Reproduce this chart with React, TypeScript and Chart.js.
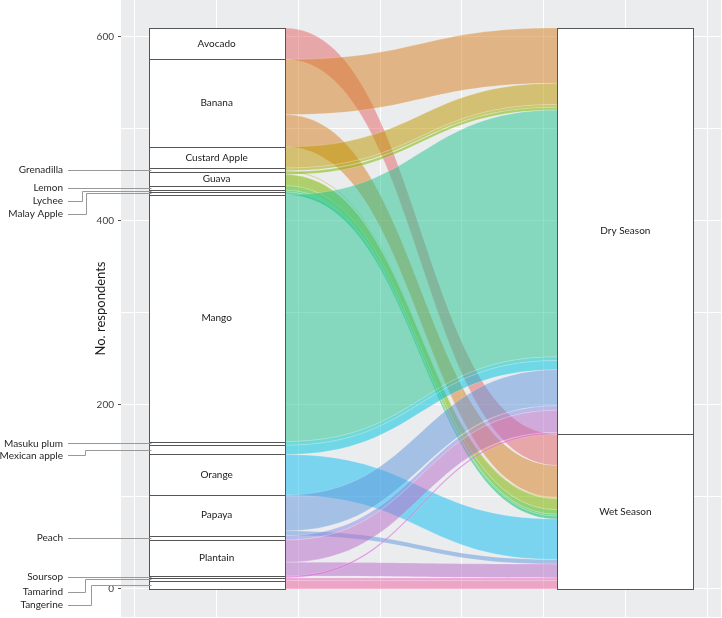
import React, { useEffect, useRef } from "react";
import { Chart, registerables } from "chart.js";

Chart.register(...registerables);

// ---------------- data ----------------
const fruits = [
  "Avocado", "Banana", "Custard Apple", "Grenadilla", "Guava", "Lemon", "Lychee",
  "Malay Apple", "Mango", "Masuku plum", "Mexican apple", "Orange", "Papaya",
  "Peach", "Plantain", "Soursop", "Tamarind", "Tangerine",
];
const seasons = ["Dry Season", "Wet Season"];
const dryCounts = [0, 60, 23, 3, 3, 0, 0, 0, 268, 4, 10, 0, 39, 5, 24, 2, 0, 0];
const wetCounts = [34, 35, 0, 1, 12, 5, 2, 3, 0, 0, 0, 44, 5, 0, 15, 0, 3, 9];
const yTickValues = [0, 100, 200, 300, 400, 500, 600];
const yTickLabels = ["0", "", "200", "", "400", "", "600"];
const xGridValues = [0.8, 1.0, 1.2, 1.4, 1.6, 1.8, 2.0, 2.2];
const axisPositions = [1, 2];
// repelled label positions (respondents) for small strata
const repelledLabelY: Record<string, number> = {
  Lychee: 421.5,
  "Malay Apple": 407.3,
  "Mexican apple": 144.9,
  Tamarind: -2.8,
  Tangerine: -16.9,
};

// ---------------- styles ----------------
const flowColors = [
  "rgba(229,104,106,0.52)", "rgba(214,128,34,0.52)", "rgba(192,152,0,0.52)",
  "rgba(165,168,0,0.52)", "rgba(128,182,0,0.55)", "rgba(70,192,20,0.55)",
  "rgba(20,190,70,0.55)", "rgba(0,190,100,0.55)", "rgba(40,198,146,0.52)",
  "rgba(0,198,190,0.52)", "rgba(0,196,222,0.52)", "rgba(20,190,242,0.52)",
  "rgba(100,152,218,0.52)", "rgba(140,140,228,0.52)", "rgba(185,110,200,0.52)",
  "rgba(220,100,220,0.6)", "rgba(235,100,190,0.52)", "rgba(240,100,160,0.52)",
];
const leaderElbowPx: Record<string, number> = {
  Lychee: 82, "Malay Apple": 86, "Mexican apple": 85, Tamarind: 85, Tangerine: 91,
};
const PANEL_BG = "#EBECEE";
const STRATUM_W = 1 / 3;
const INSIDE_MIN = 11;
const FONT = "Lato, 'Open Sans', sans-serif";

const alluvialPlugin = {
  id: "alluvial",
  beforeDraw(chart: any) {
    const { ctx, chartArea } = chart;
    ctx.save();
    ctx.fillStyle = PANEL_BG;
    ctx.fillRect(chartArea.left, chartArea.top, chartArea.right - chartArea.left, chartArea.bottom - chartArea.top);
    ctx.restore();
  },
  afterDatasetsDraw(chart: any) {
    const { ctx } = chart;
    const xs = chart.scales.x;
    const ys = chart.scales.y;
    const n = fruits.length;
    const totals = fruits.map((_, i) => dryCounts[i] + wetCounts[i]);

    const leftBottom: number[] = new Array(n);
    let acc = 0;
    for (let i = n - 1; i >= 0; i--) { leftBottom[i] = acc; acc += totals[i]; }
    const wetTotal = wetCounts.reduce((a, b) => a + b, 0);
    const dryTotal = dryCounts.reduce((a, b) => a + b, 0);
    const seasonBottom = [wetTotal, 0];
    const seasonTotal = [dryTotal, wetTotal];

    const rightBottomDry: number[] = new Array(n);
    const rightBottomWet: number[] = new Array(n);
    let accD = wetTotal, accW = 0;
    for (let i = n - 1; i >= 0; i--) {
      rightBottomDry[i] = accD; accD += dryCounts[i];
      rightBottomWet[i] = accW; accW += wetCounts[i];
    }

    const xL = xs.getPixelForValue(axisPositions[0] + STRATUM_W / 2);
    const xR = xs.getPixelForValue(axisPositions[1] - STRATUM_W / 2);
    const k = 0.5;
    const c1 = xL + (xR - xL) * k;
    const c2 = xR - (xR - xL) * k;

    ctx.save();
    for (let i = 0; i < n; i++) {
      const parts = [
        { v: dryCounts[i], lb: leftBottom[i] + wetCounts[i], rb: rightBottomDry[i] },
        { v: wetCounts[i], lb: leftBottom[i], rb: rightBottomWet[i] },
      ];
      for (const p of parts) {
        if (p.v <= 0) continue;
        const yLT = ys.getPixelForValue(p.lb + p.v);
        const yLB = ys.getPixelForValue(p.lb);
        const yRT = ys.getPixelForValue(p.rb + p.v);
        const yRB = ys.getPixelForValue(p.rb);
        ctx.beginPath();
        ctx.moveTo(xL, yLT);
        ctx.bezierCurveTo(c1, yLT, c2, yRT, xR, yRT);
        ctx.lineTo(xR, yRB);
        ctx.bezierCurveTo(c2, yRB, c1, yLB, xL, yLB);
        ctx.closePath();
        ctx.fillStyle = flowColors[i];
        ctx.fill();
        ctx.strokeStyle = "rgba(255,255,255,0.3)";
        ctx.lineWidth = 0.6;
        ctx.beginPath();
        ctx.moveTo(xL, yLT);
        ctx.bezierCurveTo(c1, yLT, c2, yRT, xR, yRT);
        ctx.moveTo(xR, yRB);
        ctx.bezierCurveTo(c2, yRB, c1, yLB, xL, yLB);
        ctx.stroke();
      }
    }

    const drawBox = (xc: number, lo: number, hi: number) => {
      const x0 = Math.round(xs.getPixelForValue(xc - STRATUM_W / 2)) + 0.5;
      const x1 = Math.round(xs.getPixelForValue(xc + STRATUM_W / 2)) + 0.5;
      const y0 = Math.round(ys.getPixelForValue(hi)) + 0.5;
      const y1 = Math.round(ys.getPixelForValue(lo)) + 0.5;
      ctx.fillStyle = "#ffffff";
      ctx.fillRect(x0, y0, x1 - x0, y1 - y0);
      ctx.strokeStyle = "#555555";
      ctx.lineWidth = 1;
      ctx.strokeRect(x0, y0, x1 - x0, y1 - y0);
    };
    for (let i = 0; i < n; i++) drawBox(axisPositions[0], leftBottom[i], leftBottom[i] + totals[i]);
    for (let s = 0; s < 2; s++) drawBox(axisPositions[1], seasonBottom[s], seasonBottom[s] + seasonTotal[s]);

    ctx.font = `10px ${FONT}`;
    ctx.fillStyle = "#1a1a1a";
    ctx.textAlign = "center";
    ctx.textBaseline = "middle";
    const xc1 = xs.getPixelForValue(axisPositions[0]);
    const xc2 = xs.getPixelForValue(axisPositions[1]);
    for (let i = 0; i < n; i++) {
      if (totals[i] >= INSIDE_MIN) {
        ctx.fillText(fruits[i], xc1, ys.getPixelForValue(leftBottom[i] + totals[i] / 2));
      }
    }
    for (let s = 0; s < 2; s++) {
      ctx.fillText(seasons[s], xc2, ys.getPixelForValue(seasonBottom[s] + seasonTotal[s] / 2));
    }

    const xStratLeft = xs.getPixelForValue(axisPositions[0] - STRATUM_W / 2);
    ctx.textAlign = "right";
    for (let i = 0; i < n; i++) {
      if (totals[i] >= INSIDE_MIN) continue;
      const name = fruits[i];
      const cy = ys.getPixelForValue(leftBottom[i] + totals[i] / 2);
      const ly = repelledLabelY[name] !== undefined ? ys.getPixelForValue(repelledLabelY[name]) : cy;
      ctx.fillStyle = "#262626";
      ctx.fillText(name, 63, ly);
      ctx.strokeStyle = "#999999";
      ctx.lineWidth = 1;
      ctx.beginPath();
      const lyR = Math.round(ly) + 0.5;
      const cyR = Math.round(cy) + 0.5;
      if (repelledLabelY[name] !== undefined) {
        const ex = leaderElbowPx[name] + 0.5;
        ctx.moveTo(68, lyR);
        ctx.lineTo(ex, lyR);
        ctx.lineTo(ex, cyR);
        ctx.lineTo(xStratLeft + 3, cyR);
      } else {
        ctx.moveTo(68, lyR);
        ctx.lineTo(xStratLeft + 3, lyR);
      }
      ctx.stroke();
    }

    ctx.save();
    ctx.translate(101, (chart.chartArea.top + chart.chartArea.bottom) / 2);
    ctx.rotate(-Math.PI / 2);
    ctx.textAlign = "center";
    ctx.textBaseline = "middle";
    ctx.fillStyle = "#1a1a1a";
    ctx.font = `13px ${FONT}`;
    ctx.fillText("No. respondents", 0, 0);
    ctx.restore();

    ctx.restore();
  },
};

export default function App() {
  const ref = useRef<HTMLCanvasElement | null>(null);
  useEffect(() => {
    if (!ref.current) return;
    const chart = new Chart(ref.current, {
      type: "scatter",
      data: { datasets: [{ data: [] }] },
      options: {
        animation: false,
        responsive: true,
        maintainAspectRatio: false,
        layout: { padding: { left: 0, right: 1, top: 0, bottom: 0 } },
        plugins: { legend: { display: false }, tooltip: { enabled: false } },
        scales: {
          x: {
            type: "linear",
            min: 0.766,
            max: 2.234,
            afterBuildTicks: (s: any) => { s.ticks = xGridValues.map((v) => ({ value: v })); },
            ticks: { display: false },
            grid: { color: "#ffffff", lineWidth: 1, drawTicks: false },
            border: { display: false },
            afterFit: (s: any) => { s.height = 1; s.paddingLeft = 0; s.paddingRight = 0; s.paddingTop = 0; s.paddingBottom = 0; },
          },
          y: {
            type: "linear",
            min: -30.45,
            max: 639.45,
            afterBuildTicks: (s: any) => { s.ticks = yTickValues.map((v) => ({ value: v })); },
            ticks: {
              autoSkip: false,
              callback: (_v: any, i: number) => yTickLabels[i],
              color: "#3d3d3d",
              font: { family: FONT, size: 10 },
              padding: 4,
            },
            grid: {
              color: "#ffffff",
              lineWidth: 1,
              drawTicks: true,
              tickLength: 3,
              tickColor: (c: any) => (yTickLabels[c.index] ? "#4d4d4d" : "rgba(0,0,0,0)"),
            },
            border: { display: false },
            afterFit: (s: any) => { s.width = 121; s.paddingTop = 0; s.paddingBottom = 0; s.paddingLeft = 0; s.paddingRight = 0; },
          },
        },
      },
      plugins: [alluvialPlugin],
    } as any);
    return () => chart.destroy();
  }, []);
  return (
    <div style={{ position: "fixed", left: 0, top: 0, width: 722, height: 618, background: "#fff" }}>
      <canvas ref={ref} />
    </div>
  );
}
